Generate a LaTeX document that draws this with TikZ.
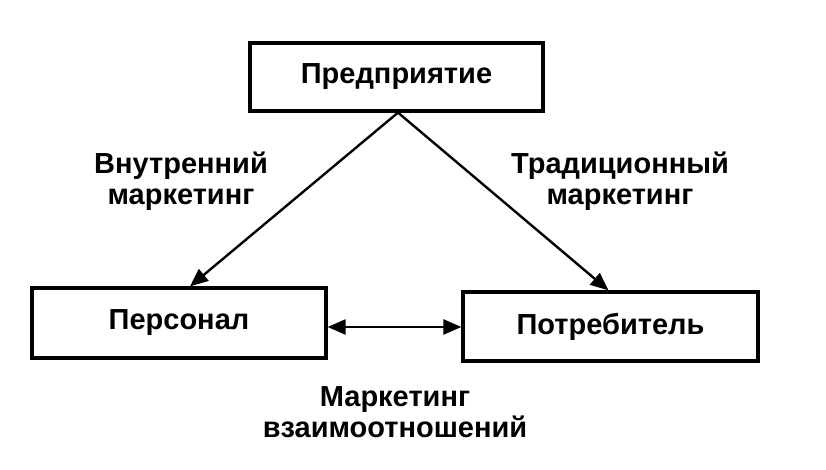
\documentclass[tikz,border=0pt]{standalone}
\usepackage{fontspec}
\setmainfont{Liberation Sans}
\usetikzlibrary{arrows.meta,calc}
\begin{document}
\begin{tikzpicture}[x=1pt,y=1pt,
  box/.style={draw=black, line width=3.2pt, inner sep=0pt, font=\bfseries\fontsize{29}{31}\selectfont},
  lbl/.style={align=center, anchor=base, font=\bfseries\fontsize{29}{31}\selectfont},
  arr/.style={line width=2.4pt, -{Triangle[length=18pt,width=15pt]}},
  darr/.style={line width=2.4pt, {Triangle[length=18pt,width=15pt]}-{Triangle[length=18pt,width=15pt]}}]
\useasboundingbox[fill=white] (0,0) rectangle (826,470);
\node[box, minimum width=293pt, minimum height=68pt] (top) at (396.5,393) {Предприятие};
\node[box, minimum width=294pt, minimum height=70pt] (left) at (179,147) {Персонал};
\node[box, minimum width=295pt, minimum height=69pt] (right) at (610.5,143.5) {Потребитель};
\coordinate (apex) at ($(top.south)+(1.5,0)$);
\draw[arr] (apex) -- ([xshift=11pt]left.north);
\draw[arr] (apex) -- ([xshift=-2pt]right.north);
\coordinate (dl) at ([yshift=-4pt]left.east);
\draw[darr] (dl) -- (dl -| right.west);
\node[lbl] (inner) at (181,265) {Внутренний\\маркетинг};
\node[lbl] (trad) at (620,265) {Традиционный\\маркетинг};
\node[lbl] (rel) at (395,32) {Маркетинг\\взаимоотношений};
\end{tikzpicture}
\end{document}
